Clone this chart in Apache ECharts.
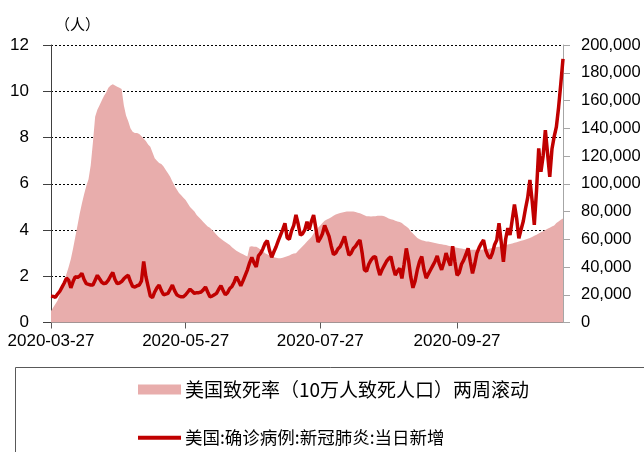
<!DOCTYPE html>
<html>
<head>
<meta charset="utf-8">
<script src="https://cdn.jsdelivr.net/npm/echarts@6/dist/echarts.min.js"></script>
<style>
	html, body { margin: 0; padding: 0; background: #fff; }
	.main { width: 644px; height: 452px; }
</style>
</head>
<body>
<div class="main"></div>
<script>
// 数据
let startDay = '2020-03-27';
let tickLabels = ['2020-03-27', '2020-05-27', '2020-07-27', '2020-09-27'];
let seriesNames = ['美国致死率（10万人致死人口）两周滚动', '美国:确诊病例:新冠肺炎:当日新增'];

// 致死率（左轴）
let deathRate = [
	0.5, 0.65, 0.8, 0.95, 1.2, 1.5, 1.8, 2.1, 2.4, 2.75,
	3.2, 3.7, 4.2, 4.7, 5.15, 5.55, 5.9, 6.2, 6.8, 7.8,
	8.9, 9.2, 9.4, 9.6, 9.8, 9.95, 10.15, 10.25, 10.3, 10.25,
	10.2, 10.15, 10.1, 9.4, 8.95, 8.7, 8.4, 8.25, 8.2, 8.2,
	8.15, 8.05, 7.95, 7.85, 7.7, 7.6, 7.35, 7.1, 7.0, 6.9,
	6.85, 6.75, 6.6, 6.45, 6.3, 6.1, 5.9, 5.75, 5.6, 5.5,
	5.4, 5.3, 5.15, 5.0, 4.9, 4.8, 4.65, 4.55, 4.45, 4.35,
	4.25, 4.15, 4.1, 4.0, 3.9, 3.8, 3.7, 3.62, 3.55, 3.48,
	3.42, 3.35, 3.25, 3.18, 3.1, 3.05, 3.0, 2.95, 2.9, 2.85,
	3.28, 3.3, 3.28, 3.28, 3.22, 3.15, 3.1, 3.0, 2.95, 2.9,
	2.85, 2.82, 2.8, 2.78, 2.78, 2.8, 2.83, 2.87, 2.9, 2.95,
	2.98, 3.0, 3.1, 3.2, 3.3, 3.4, 3.5, 3.6, 3.7, 3.85,
	3.95, 4.1, 4.2, 4.3, 4.4, 4.45, 4.5, 4.55, 4.62, 4.67,
	4.7, 4.73, 4.76, 4.78, 4.8, 4.8, 4.8, 4.8, 4.78, 4.75,
	4.72, 4.68, 4.64, 4.6, 4.6, 4.58, 4.6, 4.6, 4.62, 4.62,
	4.62, 4.6, 4.55, 4.5, 4.47, 4.44, 4.4, 4.37, 4.35, 4.3,
	4.22, 4.15, 4.08, 3.95, 3.85, 3.75, 3.65, 3.6, 3.56, 3.53,
	3.5, 3.5, 3.48, 3.46, 3.44, 3.42, 3.4, 3.38, 3.36, 3.35,
	3.32, 3.3, 3.27, 3.25, 3.23, 3.21, 3.2, 3.18, 3.17, 3.16,
	3.15, 3.15, 3.15, 3.15, 3.15, 3.15, 3.16, 3.17, 3.18, 3.2,
	3.22, 3.24, 3.26, 3.28, 3.3, 3.32, 3.35, 3.37, 3.4, 3.42,
	3.45, 3.47, 3.5, 3.53, 3.56, 3.59, 3.62, 3.65, 3.7, 3.75,
	3.8, 3.85, 3.9, 3.95, 4.0, 4.05, 4.1, 4.15, 4.2, 4.3,
	4.37, 4.44, 4.5
];

// 当日新增确诊（右轴）
let newCases = [
	19000, 18800, 18200, 20500, 22500, 25500, 28500,
	32000, 30500, 25000, 29500, 33000, 32500, 33500,
	35500, 31000, 28000, 27500, 27000, 27000, 30500,
	34000, 31500, 29000, 28000, 28500, 30500, 33500,
	36000, 31000, 28000, 28500, 29500, 31500, 33000,
	34000, 29500, 26000, 25500, 26500, 27000, 30000,
	44000, 33000, 26000, 19000, 18000, 22000, 25000,
	27000, 23000, 20000, 20500, 21000, 24000, 27000,
	23000, 20000, 19000, 18500, 18600, 20000, 22000,
	24000, 22500, 21000, 21500, 21500, 22000, 23500,
	25600, 22000, 18500, 19000, 20000, 21000, 24000,
	26500, 23000, 20000, 21500, 24500, 26000, 29000,
	33000, 30000, 26500, 30000, 34000, 38000, 43000,
	47000, 43000, 40000, 48000, 50000, 53000, 57000,
	59000, 52000, 47000, 51000, 54600, 59000, 63000,
	67000, 71500, 61000, 60000, 66000, 70000, 77500,
	71000, 63000, 64000, 66700, 72700, 67000, 73000,
	77500, 68000, 58000, 60600, 64000, 70000, 66000,
	62000, 55000, 49000, 50000, 53000, 54600, 58000,
	62000, 55000, 48600, 50000, 53400, 55000, 57500,
	59400, 50000, 38000, 37000, 42000, 45000, 47000,
	47400, 40000, 34200, 38000, 41000, 44000, 46000,
	47400, 40000, 34200, 37000, 39000, 31800, 42000,
	53400, 45000, 33000, 25000, 30000, 38000, 44000,
	47500, 38000, 32000, 35000, 38000, 41000, 44000,
	48000, 42000, 38000, 43000, 50000, 45000, 41000,
	55000, 44000, 34000, 36000, 42000, 45000, 49000,
	53400, 44000, 35400, 42000, 50000, 54000, 57000,
	59400, 52000, 48000, 46200, 50000, 56000, 59400,
	71500, 58000, 43800, 60000, 68000, 63000, 74000,
	85000, 75000, 60600, 67000, 73000, 82000, 90000,
	102700, 88000, 70300, 95000, 125500, 108700, 120000,
	138700, 122000, 105000, 125000, 134000, 141000, 155000,
	172000, 190000
];

// 日期
let days = [];
let d = new Date(startDay + 'T00:00:00Z');
for (let i = 0; i < newCases.length; i++) {
	days.push(d.toISOString().slice(0, 10));
	d.setUTCDate(d.getUTCDate() + 1);
}

const numFont = '"Liberation Sans", Arial, sans-serif';
const cjkFont = '"Noto Sans CJK SC", sans-serif';
const showTick = (i, v) => tickLabels.includes(v);
const pink = '#e8adac';

let myChart = echarts.init(document.getElementsByClassName('main')[0], null, { renderer: 'canvas' });

let option = {
	animation: false,
	backgroundColor: '#fff',
	grid: { left: 51, right: 81, top: 45, bottom: 129.5 },
	graphic: [
		{
			type: 'text', left: 55, top: 17,
			style: { text: '（人）', font: '15px ' + cjkFont, fill: '#000' }
		},
		{
			type: 'rect', shape: { x: 15.5, y: 367.5, width: 700, height: 200 },
			style: { fill: 'none', stroke: '#595959', lineWidth: 1 }
		}
	],
	legend: [
		{
			data: [seriesNames[0]], left: 133, top: 375,
			icon: 'rect', itemWidth: 43, itemHeight: 10, itemGap: 4,
			textStyle: { fontFamily: cjkFont, fontSize: 19, color: '#000', padding: [0, 0, 0, -1] }
		},
		{
			data: [seriesNames[1]], left: 133, top: 424,
			icon: 'rect', itemWidth: 43, itemHeight: 4, itemGap: 4,
			textStyle: { fontFamily: cjkFont, fontSize: 17.5, color: '#000', padding: [0, 0, 0, -1] }
		}
	],
	xAxis: {
		type: 'category',
		data: days,
		boundaryGap: false,
		axisLine: { lineStyle: { color: '#8c8c8c', width: 1 } },
		axisTick: { interval: showTick, length: 6, lineStyle: { color: '#595959' } },
		axisLabel: { interval: showTick, color: '#000', fontSize: 17, fontFamily: numFont, margin: 10 },
		splitLine: { show: false }
	},
	yAxis: [
		{
			type: 'value', min: 0, max: 12, interval: 2, position: 'left',
			axisLine: { show: true, lineStyle: { color: '#404040' } },
			axisTick: { show: true, length: 8, lineStyle: { color: '#404040' } },
			axisLabel: { color: '#000', fontSize: 17, fontFamily: numFont, margin: 22 },
			splitLine: { show: true, lineStyle: { color: '#000', type: [2, 2], width: 1 } }
		},
		{
			type: 'value', min: 0, max: 200000, interval: 20000, position: 'right',
			axisLine: { show: true, lineStyle: { color: '#a6a6a6' } },
			axisTick: { show: true, length: 7, lineStyle: { color: '#a6a6a6' } },
			axisLabel: {
				color: '#000', fontSize: 16.5, fontFamily: numFont, margin: 18,
				formatter: v => String(v).replace(/\B(?=(\d{3})+(?!\d))/g, ',')
			},
			splitLine: { show: false }
		}
	],
	series: [
		{
			name: seriesNames[0],
			type: 'line',
			yAxisIndex: 0,
			data: deathRate,
			symbol: 'none',
			lineStyle: { width: 0 },
			itemStyle: { color: pink },
			areaStyle: { color: pink, opacity: 1 },
			z: 1
		},
		{
			name: seriesNames[1],
			type: 'line',
			yAxisIndex: 1,
			data: newCases,
			symbol: 'none',
			lineStyle: { width: 3.5, color: '#c00000' },
			itemStyle: { color: '#c00000' },
			z: 3
		}
	]
};
myChart.setOption(option);
</script>
</body>
</html>
